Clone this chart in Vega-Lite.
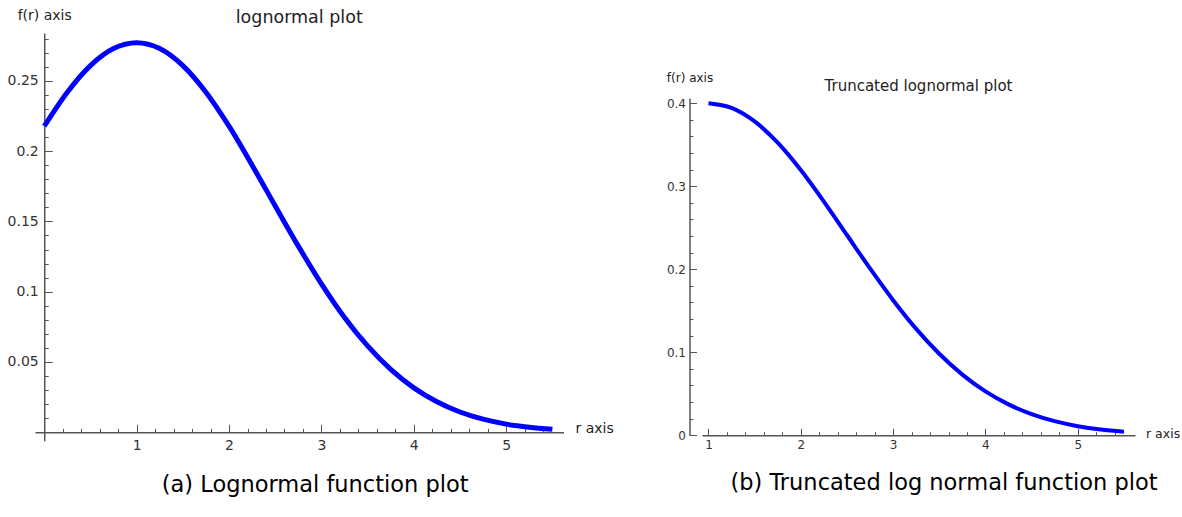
{
  "$schema": "https://vega.github.io/schema/vega-lite/v6.json",
  "background": "white",
  "padding": {"left": 7, "top": 8, "right": 0, "bottom": 0},
  "config": {
    "view": {"stroke": null, "fill": "white"},
    "font": "DejaVu Sans",
    "axis": {
      "grid": false,
      "domainColor": "#555555",
      "domainWidth": 1.5,
      "tickColor": "#555555",
      "tickWidth": 1,
      "labelColor": "#333333",
      "labelFont": "DejaVu Sans",
      "titleFont": "DejaVu Sans",
      "titleFontWeight": "normal",
      "titleColor": "#222222",
      "labelOverlap": false,
      "labelFlush": false,
      "labelBound": false
    },
    "title": {"font": "DejaVu Sans", "fontWeight": "normal", "color": "#222222"}
  },
  "datasets": {
    "a": [
      {"r": 0, "f": 0.2177}, {"r": 0.25, "f": 0.2419}, {"r": 0.5, "f": 0.2608}, {"r": 0.75, "f": 0.2729},
      {"r": 1, "f": 0.277}, {"r": 1.25, "f": 0.2729}, {"r": 1.5, "f": 0.2608}, {"r": 1.75, "f": 0.2419},
      {"r": 2, "f": 0.2177}, {"r": 2.25, "f": 0.19}, {"r": 2.5, "f": 0.161}, {"r": 2.75, "f": 0.1324},
      {"r": 3, "f": 0.1056}, {"r": 3.25, "f": 0.0817}, {"r": 3.5, "f": 0.0614}, {"r": 3.75, "f": 0.0447},
      {"r": 4, "f": 0.0316}, {"r": 4.25, "f": 0.0217}, {"r": 4.5, "f": 0.0144}, {"r": 4.75, "f": 0.0093},
      {"r": 5, "f": 0.0058}, {"r": 5.25, "f": 0.0036}, {"r": 5.5, "f": 0.0021}
    ],
    "b": [
      {"r": 1, "f": 0.4}, {"r": 1.25, "f": 0.3944}, {"r": 1.5, "f": 0.3781}, {"r": 1.75, "f": 0.3525},
      {"r": 2, "f": 0.3195}, {"r": 2.25, "f": 0.2816}, {"r": 2.5, "f": 0.2413}, {"r": 2.75, "f": 0.201},
      {"r": 3, "f": 0.1628}, {"r": 3.25, "f": 0.1282}, {"r": 3.5, "f": 0.0982}, {"r": 3.75, "f": 0.0731},
      {"r": 4, "f": 0.0529}, {"r": 4.25, "f": 0.0373}, {"r": 4.5, "f": 0.0255}, {"r": 4.75, "f": 0.017},
      {"r": 5, "f": 0.011}, {"r": 5.25, "f": 0.0069}, {"r": 5.5, "f": 0.0042}
    ]
  },
  "spacing": 52,
  "hconcat": [
    {
      "title": {"text": "(a) Lognormal function plot", "orient": "bottom", "anchor": "middle", "fontSize": 22.5, "color": "#000000", "offset": 18, "dx": 5},
      "vconcat": [
        {
          "title": {"text": "lognormal plot", "fontSize": 17.5, "offset": -27.5, "baseline": "middle"},
          "width": 528.5,
          "height": 407.7,
          "data": {"name": "a"},
          "mark": {"type": "line", "color": "#0000ff", "strokeWidth": 5, "interpolate": "monotone"},
          "encoding": {
            "x": {
              "field": "r", "type": "quantitative",
              "scale": {"domain": [-0.1, 5.62], "nice": false, "zero": false},
              "axis": {
                "values": [0.2,0.4,0.6,0.8,1,1.2,1.4,1.6,1.8,2,2.2,2.4,2.6,2.8,3,3.2,3.4,3.6,3.8,4,4.2,4.4,4.6,4.8,5,5.2,5.4],
                "offset": -8.4,
                "tickSize": {"condition": {"test": "abs(datum.value - round(datum.value)) < 0.001", "value": -8}, "value": -4},
                "labelExpr": "abs(datum.value - round(datum.value)) < 0.001 ? format(datum.value, 'd') : ''",
                "labelFontSize": 14,
                "labelPadding": 14,
                "title": "r axis",
                "titleFontSize": 14,
                "titleX": 540,
                "titleY": -4,
                "titleAlign": "left",
                "titleBaseline": "middle"
              }
            },
            "y": {
              "field": "f", "type": "quantitative",
              "scale": {"domain": [-0.006, 0.284], "nice": false, "zero": false},
              "axis": {
                "values": [0.01,0.02,0.03,0.04,0.05,0.06,0.07,0.08,0.09,0.1,0.11,0.12,0.13,0.14,0.15,0.16,0.17,0.18,0.19,0.2,0.21,0.22,0.23,0.24,0.25,0.26,0.27,0.28],
                "offset": -9.24,
                "tickSize": {"condition": {"test": "abs(datum.value * 20 - round(datum.value * 20)) < 0.001", "value": -8}, "value": -4},
                "labelExpr": "abs(datum.value * 20 - round(datum.value * 20)) < 0.001 ? format(datum.value, '~g') : ''",
                "labelFontSize": 14,
                "labelPadding": 14,
                "title": "f(r) axis",
                "titleFontSize": 14,
                "titleAngle": 0,
                "titleX": 0,
                "titleY": -18,
                "titleAlign": "center",
                "titleBaseline": "middle"
              }
            }
          }
        }
      ]
    },
    {
      "title": {"text": "(b) Truncated log normal function plot", "orient": "bottom", "anchor": "middle", "fontSize": 22.5, "color": "#000000", "offset": 18, "dx": 21},
      "vconcat": [
        {
          "title": {"text": "Truncated lognormal plot", "fontSize": 15, "offset": -68.3, "baseline": "middle"},
          "width": 433,
          "height": 402.3,
          "data": {"name": "b"},
          "mark": {"type": "line", "color": "#0000ff", "strokeWidth": 4, "interpolate": "monotone"},
          "encoding": {
            "x": {
              "field": "r", "type": "quantitative",
              "scale": {"domain": [0.93, 5.62], "nice": false, "zero": false},
              "axis": {
                "values": [1,1.2,1.4,1.6,1.8,2,2.2,2.4,2.6,2.8,3,3.2,3.4,3.6,3.8,4,4.2,4.4,4.6,4.8,5,5.2,5.4],
                "tickSize": {"condition": {"test": "abs(datum.value - round(datum.value)) < 0.001", "value": -7}, "value": -3.5},
                "labelExpr": "abs(datum.value - round(datum.value)) < 0.001 ? format(datum.value, 'd') : ''",
                "labelFontSize": 12,
                "labelPadding": 11,
                "title": "r axis",
                "titleFontSize": 12.5,
                "titleX": 443.5,
                "titleY": -2,
                "titleAlign": "left",
                "titleBaseline": "middle"
              }
            },
            "y": {
              "field": "f", "type": "quantitative",
              "scale": {"domain": [0, 0.406], "nice": false, "zero": false, "range": [402.3, 65.3]},
              "axis": {
                "values": [0,0.02,0.04,0.06,0.08,0.1,0.12,0.14,0.16,0.18,0.2,0.22,0.24,0.26,0.28,0.3,0.32,0.34,0.36,0.38,0.4],
                "offset": 12.5,
                "tickSize": {"condition": {"test": "abs(datum.value * 10 - round(datum.value * 10)) < 0.001", "value": -7}, "value": -3.5},
                "labelExpr": "abs(datum.value * 10 - round(datum.value * 10)) < 0.001 ? format(datum.value, '~g') : ''",
                "labelFontSize": 12,
                "labelPadding": 11,
                "title": "f(r) axis",
                "titleFontSize": 12,
                "titleAngle": 0,
                "titleX": 0,
                "titleY": 44.3,
                "titleAlign": "center",
                "titleBaseline": "middle"
              }
            }
          }
        }
      ]
    }
  ]
}
